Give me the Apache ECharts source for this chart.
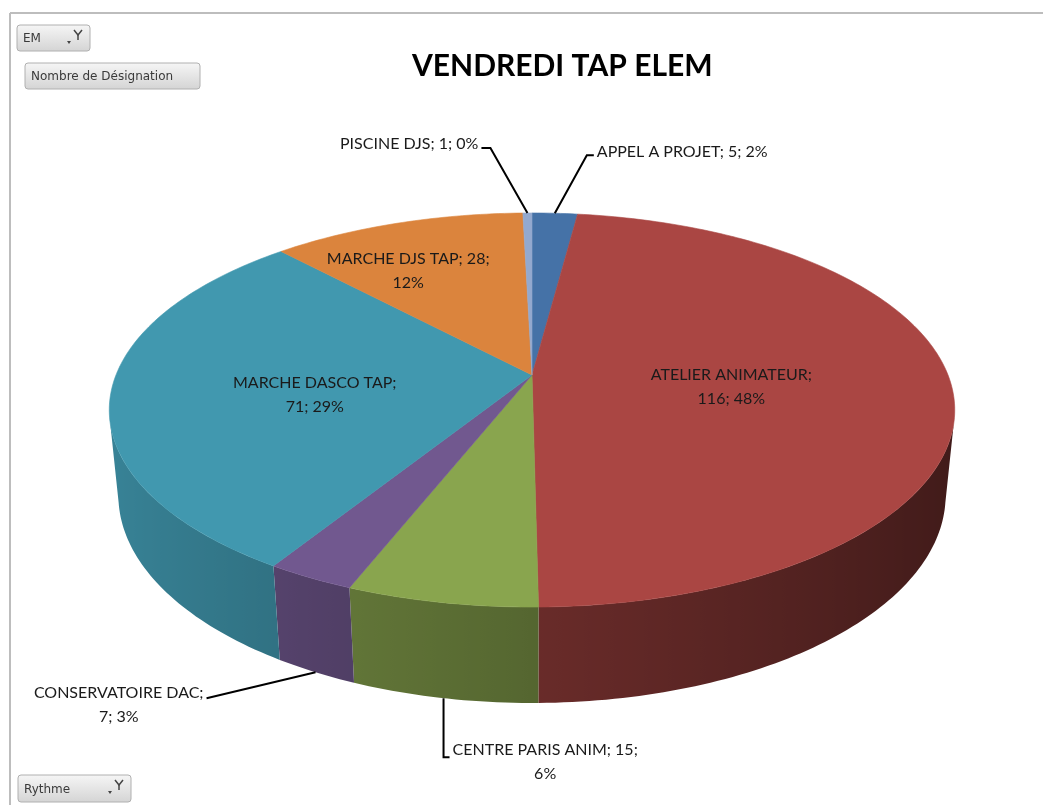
<!DOCTYPE html>
<html><head><meta charset="utf-8">
<script src="https://cdn.jsdelivr.net/npm/echarts@6/dist/echarts.min.js"></script>
<style>html,body{margin:0;padding:0;background:#fff}#c{width:1043px;height:805px}</style>
</head><body><div id="c"></div>
<script>
// ---- data ----
const categories = ['APPEL A PROJET','ATELIER ANIMATEUR','CENTRE PARIS ANIM','CONSERVATOIRE DAC','MARCHE DASCO TAP','MARCHE DJS TAP','PISCINE DJS'];
const values = [5,116,15,7,71,28,1];
const titleText = 'VENDREDI TAP ELEM';

// ---- style ----
const colors = ['#4572A7','#AA4643','#89A54E','#71588F','#4198AF','#DB843D','#93A9CF'];
const LABEL_FONT = '16px Lato';
const LINE_H = 24;
// label layout: type in/out, line break after field (0 none,1 after name,2 after value)
const labelLayout = [
  {type:'out', edge:'top', elbow:[32,-58], tail:7, side:'right', brk:0, dy:-3},
  {type:'in', r:0.48, dx:-1, dy:6, brk:1},
  {type:'out', edge:'bottom', elbow:[0,59], tail:6, side:'right', brk:2, dy:-7},
  {type:'out', edge:'bottom', elbow:[-109,26], tail:0, side:'left', brk:1, dy:-5},
  {type:'in', r:0.52, dx:0, dy:10, brk:1},
  {type:'in', r:0.7, dx:-25, dy:7, brk:2},
  {type:'out', edge:'top', elbow:[-37,-65], tail:-9, side:'left', brk:0, dy:-4}
];

// ---- projection (perspective 3D pie) ----
const CX=532, CY=375, S=416, SINA=0.4587, COSA=0.8886, D=5.0, T=0.2323;
function proj(u, v, y){
  const Yp = y*COSA - v*SINA;
  const Zp = y*SINA + v*COSA;
  const w = D/(D - Zp);
  return [CX + S*u*w, CY - S*Yp*w];
}
const visSin = 1/(D*COSA);
const VIS0 = Math.asin(visSin)*180/Math.PI, VIS1 = 180 - VIS0;

const total = values.reduce((a,b)=>a+b,0);
const angles = []; let acc = 0;
values.forEach(v=>{ const a0=-90+acc/total*360; acc+=v; angles.push([a0,-90+acc/total*360]); });

function shade(hex, f){
  const n=parseInt(hex.slice(1),16);
  const r=Math.round(((n>>16)&255)*f), g=Math.round(((n>>8)&255)*f), b=Math.round((n&255)*f);
  return 'rgb('+r+','+g+','+b+')';
}
const mctx=document.createElement('canvas').getContext('2d');
function textW(s){ mctx.font=LABEL_FONT; return mctx.measureText(s).width; }
function labelLines(i){
  const pct=Math.round(values[i]/total*100);
  const b=labelLayout[i].brk;
  const name=categories[i]+';', val=values[i]+';', p=pct+'%';
  if(b===1) return [name, val+' '+p];
  if(b===2) return [name+' '+val, p];
  return [name+' '+val+' '+p];
}
const rad=d=>d*Math.PI/180;

function renderItem(params, api){
  const i=params.dataIndex;
  const [a0,a1]=angles[i];
  const ch=[];
  const n=Math.max(2,Math.ceil(a1-a0));
  const pts=[proj(0,0,0)];
  for(let k=0;k<=n;k++){const t=rad(a0+(a1-a0)*k/n); pts.push(proj(Math.cos(t),Math.sin(t),0));}
  ch.push({type:'polygon',z2:5,shape:{points:pts},style:{fill:colors[i],stroke:colors[i],lineWidth:0.6}});
  const w0=Math.max(a0,VIS0-1), w1=Math.min(a1,VIS1+1);
  if(w1>w0){
    const m=Math.max(2,Math.ceil((w1-w0)));
    const top=[],bot=[],th=[];
    for(let k=0;k<=m;k++){const d=w0+(w1-w0)*k/m,t=rad(d);th.push(d);top.push(proj(Math.cos(t),Math.sin(t),0));bot.push(proj(Math.cos(t),Math.sin(t),-T));}
    const poly=top.concat(bot.slice().reverse());
    const xs=poly.map(p=>p[0]);const xmin=Math.min(...xs),xmax=Math.max(...xs);
    const stops=[];
    for(let k=m;k>=0;k--){
      const off=Math.min(1,Math.max(0,(top[k][0]-xmin)/(xmax-xmin)));
      stops.push({offset:off,color:shade(colors[i],0.62-0.25*Math.cos(rad(th[k])))});
    }
    ch.push({type:'polygon',z2:1,shape:{points:poly},style:{fill:new echarts.graphic.LinearGradient(xmin,0,xmax,0,stops,true),stroke:null}});
  }
  const L=labelLayout[i], lines=labelLines(i), mid=rad((a0+a1)/2);
  const bw=Math.max(...lines.map(textW));
  let cx, ty;
  if(L.type==='in'){
    const p=proj(L.r*Math.cos(mid),L.r*Math.sin(mid),0);
    cx=p[0]+L.dx; ty=p[1]+L.dy-lines.length*LINE_H/2;
  } else {
    const A=proj(Math.cos(mid),Math.sin(mid),L.edge==='top'?0:-T);
    const E=[A[0]+L.elbow[0],A[1]+L.elbow[1]];
    const Q=[E[0]+L.tail,E[1]];
    const lp=[A,E]; if(L.tail) lp.push(Q);
    ch.push({type:'polyline',z2:8,shape:{points:lp},style:{stroke:'#000',lineWidth:2,fill:null}});
    cx = L.side==='right' ? Q[0]+3+bw/2 : Q[0]-3-bw/2;
    ty = Q[1]+L.dy-LINE_H/2;
  }
  ch.push({type:'text',z2:10,style:{text:lines.join('\n'),x:cx,y:ty,align:'center',verticalAlign:'top',font:LABEL_FONT,fill:'#1a1a1a',lineHeight:LINE_H}});
  return {type:'group',children:ch};
}

function button(x,y,w,h,label,funnel){
  const els=[
    {type:'rect',shape:{x:x,y:y,width:w,height:h,r:3},style:{fill:new echarts.graphic.LinearGradient(0,0,0,1,[{offset:0,color:'#f6f6f6'},{offset:1,color:'#d4d4d4'}]),stroke:'#b0b0b0',lineWidth:1}},
    {type:'text',style:{text:label,x:x+6,y:y+h/2+1,verticalAlign:'middle',font:'12px "DejaVu Sans"',fill:'#3a3a3a'}}
  ];
  if(funnel){
    const fx=x+w-16, fy=y+5;
    els.push({type:'polyline',shape:{points:[[fx,fy],[fx+4,fy+5],[fx+8,fy]]},style:{stroke:'#444',lineWidth:1.5,fill:null}});
    els.push({type:'line',shape:{x1:fx+4,y1:fy+5,x2:fx+4,y2:fy+10},style:{stroke:'#444',lineWidth:1.5}});
    els.push({type:'polygon',shape:{points:[[fx-7,fy+11],[fx-3,fy+11],[fx-5,fy+14]]},style:{fill:'#444'}});
  }
  return els;
}

const chart=echarts.init(document.getElementById('c'),null,{renderer:'canvas'});
chart.setOption({
  animation:false,
  backgroundColor:'#ffffff',
  title:{text:titleText,left:412,top:51,padding:0,textStyle:{fontFamily:'Lato',fontSize:30,fontWeight:'bold',color:'#000'}},
  graphic:[
    {type:'line',shape:{x1:10,y1:13,x2:1043,y2:13},style:{stroke:'#bdbdbd',lineWidth:2}},
    {type:'line',shape:{x1:10,y1:13,x2:10,y2:805},style:{stroke:'#bdbdbd',lineWidth:2}},
    ...button(17,25,73,26,'EM',true),
    ...button(25,63,175,26,'Nombre de Désignation',false),
    ...button(18,775,113,27,'Rythme',true)
  ],
  series:[{type:'custom',coordinateSystem:'none',renderItem:renderItem,data:values.map((v,i)=>[v,i]),silent:true}]
});
</script></body></html>
